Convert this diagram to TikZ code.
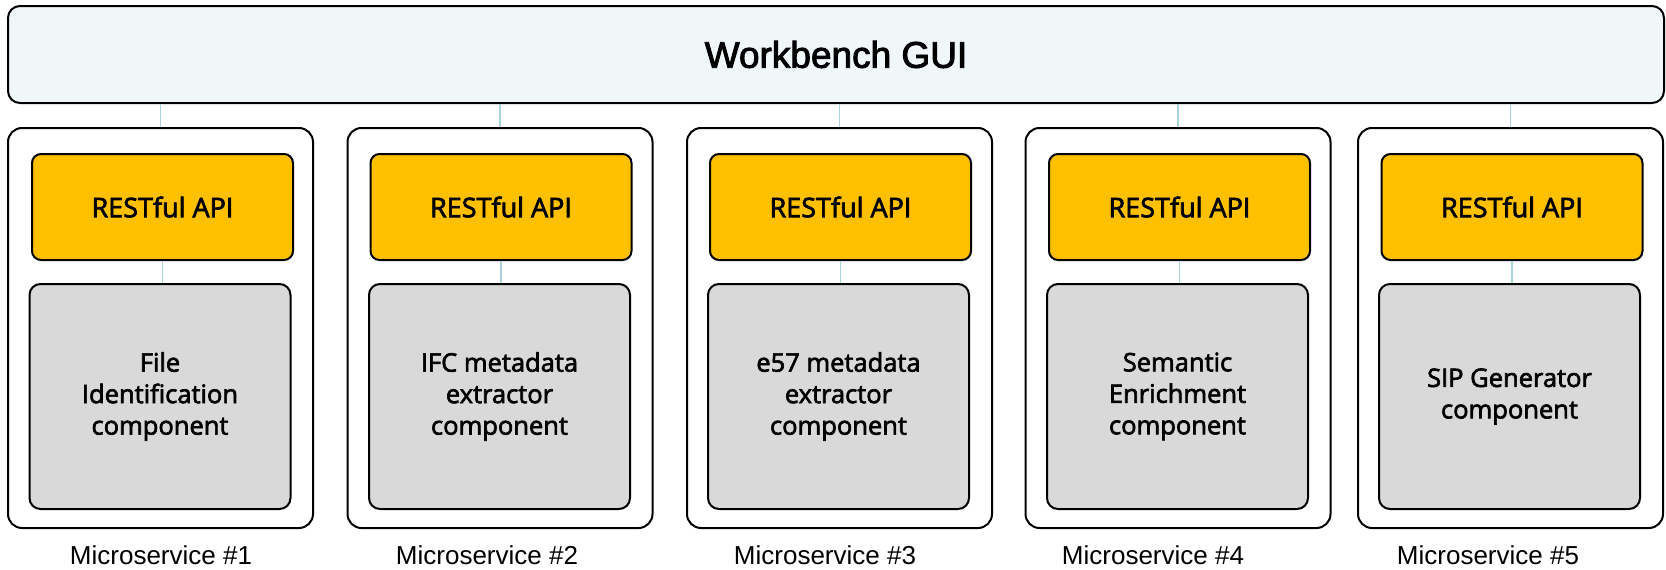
\documentclass[tikz,border=0pt]{standalone}
\usepackage{fontspec}
\setmainfont{Liberation Sans}
\newfontfamily\guifont{Liberation Sans}[FakeBold=2.5]
\newfontfamily\boxfont{Open Sans}[FakeBold=2.5]
\definecolor{guifill}{HTML}{EFF7F9}
\definecolor{apifill}{HTML}{FFC000}
\definecolor{compfill}{HTML}{D9D9D9}
\definecolor{linkcol}{HTML}{A9D3DB}
\begin{document}
\begin{tikzpicture}[x=1pt, y=-1pt,
        gui/.style={draw, line width=2pt, rounded corners=12pt, fill=guifill, minimum width=1656pt, minimum height=97pt, inner sep=0pt, font=\guifont\fontsize{37}{42}\selectfont},
        ms/.style={draw, line width=2pt, rounded corners=14pt, minimum width=305pt, minimum height=400pt, inner sep=0pt},
        api/.style={draw, line width=2pt, rounded corners=9pt, fill=apifill, minimum width=261pt, minimum height=106pt, inner sep=0pt, font=\boxfont\fontsize{27}{31}\selectfont},
        comp/.style={draw, line width=2pt, rounded corners=11pt, fill=compfill, minimum width=261pt, minimum height=225pt, inner sep=0pt, align=center, font=\boxfont\fontsize{25.5}{31.5}\selectfont},
        mslabel/.style={font=\fontsize{26}{30}\selectfont},
        link/.style={draw=linkcol, line width=1.5pt}]
        \useasboundingbox (0,0) rectangle (1666,570);
        \node[gui] (gui) at (836,54.5) {Workbench GUI};
        % microservice frames
        \node[ms] (ms1) at (160.5,328) {};
        \node[ms] (ms2) at (500,328) {};
        \node[ms] (ms3) at (839.5,328) {};
        \node[ms] (ms4) at (1178,328) {};
        \node[ms] (ms5) at (1510.5,328) {};
        % APIs
        \node[api] (api1) at (162.5,207) {RESTful API};
        \node[api] (api2) at (501,207) {RESTful API};
        \node[api] (api3) at (840.5,207) {RESTful API};
        \node[api] (api4) at (1179.5,207) {RESTful API};
        \node[api] (api5) at (1512,207) {RESTful API};
        % components
        \node[comp] (comp1) at (160,396.5) {File\\Identification\\component};
        \node[comp] (comp2) at (499.5,396.5) {IFC metadata\\extractor\\component};
        \node[comp] (comp3) at (838.5,396.5) {e57 metadata\\extractor\\component};
        \node[comp] (comp4) at (1177.5,396.5) {Semantic\\Enrichment\\component};
        \node[comp] (comp5) at (1509.5,396.5) {SIP Generator\\component};
        % labels
        \node[mslabel] (lab1) at (161,555) {Microservice \#1};
        \node[mslabel] (lab2) at (487,555) {Microservice \#2};
        \node[mslabel] (lab3) at (825,555) {Microservice \#3};
        \node[mslabel] (lab4) at (1153,555) {Microservice \#4};
        \node[mslabel] (lab5) at (1488,555) {Microservice \#5};
        % links
        \draw[link] (ms1.north) -- (ms1.north |- gui.south);
        \draw[link] (ms2.north) -- (ms2.north |- gui.south);
        \draw[link] (ms3.north) -- (ms3.north |- gui.south);
        \draw[link] (ms4.north) -- (ms4.north |- gui.south);
        \draw[link] (ms5.north) -- (ms5.north |- gui.south);
        \draw[link] (api1.south) -- (api1.south |- comp1.north);
        \draw[link] (api2.south) -- (api2.south |- comp2.north);
        \draw[link] (api3.south) -- (api3.south |- comp3.north);
        \draw[link] (api4.south) -- (api4.south |- comp4.north);
        \draw[link] (api5.south) -- (api5.south |- comp5.north);
\end{tikzpicture}
\end{document}
